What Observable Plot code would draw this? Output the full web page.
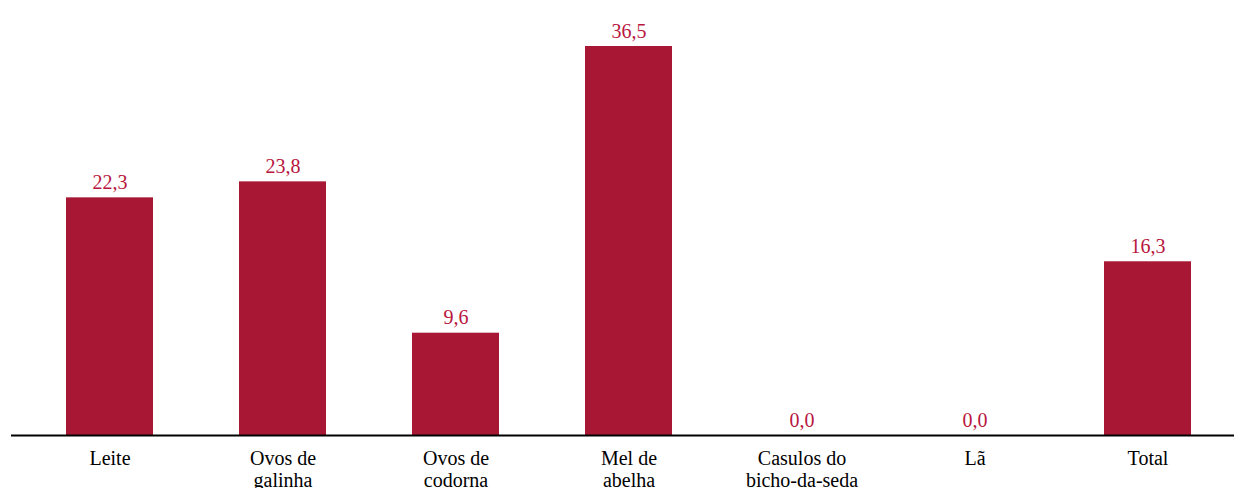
<!DOCTYPE html>
<html>
<head>
<meta charset="utf-8">
<script src="https://cdn.jsdelivr.net/npm/d3@7"></script>
<script src="https://cdn.jsdelivr.net/npm/@observablehq/plot@0.6"></script>
</head>
<body style="margin:0;padding:0;background:#fff">
<div id="chart"></div>
<script>
const categories = ["Leite", "Ovos de galinha", "Ovos de codorna", "Mel de abelha", "Casulos do bicho-da-seda", "Lã", "Total"];
const tickLabels = ["Leite", "Ovos de\ngalinha", "Ovos de\ncodorna", "Mel de\nabelha", "Casulos do\nbicho-da-seda", "Lã", "Total"];
const values = [22.3, 23.8, 9.6, 36.5, 0.0, 0.0, 16.3];

const data = categories.map((c, i) => ({category: c, value: values[i], tick: tickLabels[i]}));
const tickMap = new Map(data.map(d => [d.category, d.tick]));
const fmt = v => v.toFixed(1).replace(".", ",");
const FONT = "serif";

const chart = Plot.plot({
  width: 1236,
  height: 488,
  marginTop: 46,
  marginBottom: 53,
  marginLeft: 22,
  marginRight: 2,
  style: {fontFamily: FONT, fontSize: "20px", display: "block"},
  x: {domain: categories, paddingInner: 0.5, paddingOuter: 0.25, align: 0.5, label: null},
  y: {domain: [0, 36.5], axis: null},
  marks: [
    Plot.barY(data, {x: "category", y: "value", fill: "#A81834"}),
    Plot.ruleY([0], {stroke: "#000", strokeWidth: 2, insetLeft: -11}),
    Plot.text(data, {x: "category", y: "value", text: d => fmt(d.value), dy: -9, lineAnchor: "bottom", fill: "#B8163E", fontSize: 20, fontFamily: FONT}),
    Plot.axisX({tickSize: 0, tickPadding: 14, fontSize: 20, fontFamily: FONT, lineHeight: 1.1, tickFormat: d => tickMap.get(d), label: null})
  ]
});
chart.setAttribute("font-family", FONT);
chart.querySelectorAll("g, text, tspan").forEach(el => {
  if (el.hasAttribute("font-family")) el.setAttribute("font-family", FONT);
  if (el.tagName === "text") el.style.fontFamily = "Liberation Serif";
});
document.getElementById("chart").appendChild(chart);
</script>
</body>
</html>
